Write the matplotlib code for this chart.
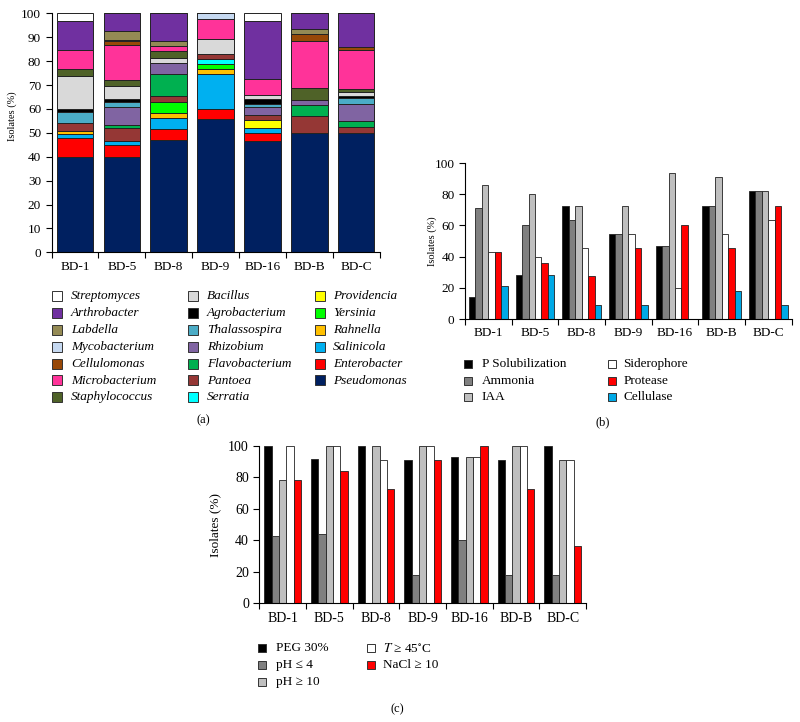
import matplotlib
matplotlib.use("Agg")
import matplotlib.pyplot as plt
import numpy as np
from matplotlib.patches import Rectangle

plt.rcParams['font.family'] = ['Liberation Serif', 'DejaVu Serif']
plt.rcParams['mathtext.fontset'] = 'stix'

W, H = 800, 722

# ---- data ----
sites = ['BD-1', 'BD-5', 'BD-8', 'BD-9', 'BD-16', 'BD-B', 'BD-C']

# stacking order, bottom to top
genera = ['Pseudomonas', 'Enterobacter', 'Salinicola', 'Rahnella', 'Yersinia',
          'Providencia', 'Serratia', 'Pantoea', 'Flavobacterium', 'Rhizobium',
          'Thalassospira', 'Agrobacterium', 'Bacillus', 'Staphylococcus',
          'Microbacterium', 'Cellulomonas', 'Mycobacterium', 'Labdella',
          'Arthrobacter', 'Streptomyces']
genus_colors = ['#002060', '#FF0000', '#00B0F0', '#FFC000', '#00FF00',
                '#FFFF00', '#00FFFF', '#953735', '#00B050', '#8064A2',
                '#4BACC6', '#000000', '#D9D9D9', '#4F6228',
                '#FF3399', '#984807', '#C6D9F1', '#948A54',
                '#7030A0', '#FFFFFF']

bd1 = [40, 8, 1.3, 1.3, 0, 0, 0, 3.3, 0, 0, 4.6, 1.4, 13.8, 3.0, 7.9, 0, 0, 0, 12.3, 3.1]
bd5 = [40, 4.9, 1.8, 0, 0, 0, 0, 5.3, 1.4, 7.4, 1.9, 1.3, 5.6, 2.7, 14.6, 1.4, 0.7, 3.4, 7.6, 0]
bd8 = [46.8, 4.6, 4.7, 2.3, 4.6, 0, 0, 2.3, 9.3, 4.6, 0, 0, 2.2, 2.7, 2.1, 0, 0, 2.2, 11.6, 0]
bd9 = [55.6, 4.2, 14.8, 2.1, 2.1, 0, 2.1, 2.1, 0, 0, 0, 0, 6.4, 0, 8.4, 0, 2.2, 0, 0, 0]
bd16 = [46.7, 3.3, 1.9, 0, 0, 3.4, 0, 2.1, 0, 3.3, 1.5, 1.8, 1.8, 0, 6.7, 0, 0, 0, 24.4, 3.1]
bdb = [50, 0, 0, 0, 0, 0, 0, 7.0, 4.6, 2.2, 0, 0, 0, 4.8, 19.9, 2.7, 0, 2.1, 6.7, 0]
bdc = [50, 0, 0, 0, 0, 0, 0, 2.4, 2.6, 7.0, 2.4, 1.2, 1.4, 1.3, 16.4, 1.4, 0, 0, 13.9, 0]

# (b) plant growth promoting traits
pgp_labels = ['P Solubilization', 'Ammonia', 'IAA', 'Siderophore', 'Protease', 'Cellulase']
pgp_colors = ['#000000', '#808080', '#BFBFBF', '#FFFFFF', '#FF0000', '#00A9E6']
p_sol = [14.3, 28, 72.7, 54.5, 46.7, 72.7, 81.8]
ammonia = [71.4, 60, 63.6, 54.5, 46.7, 72.7, 81.8]
iaa = [85.7, 80, 72.7, 72.7, 93.3, 90.9, 81.8]
siderophore = [42.9, 40, 45.5, 54.5, 20, 54.5, 63.6]
protease = [42.9, 36, 27.3, 45.5, 60, 45.5, 72.7]
cellulase = [21.4, 28, 9.1, 9.1, 0, 18.2, 9.1]

# (c) stress tolerance
stress_labels = ['PEG 30%', 'pH ≤ 4', 'pH ≥ 10', r'$T$ ≥ 45$^{\circ}$C', 'NaCl ≥ 10']
stress_colors = ['#000000', '#808080', '#BFBFBF', '#FFFFFF', '#FF0000']
peg = [100, 92, 100, 90.9, 93.3, 90.9, 100]
ph_low = [42.9, 44, 0, 18.2, 40, 18.2, 18.2]
ph_high = [78.6, 100, 100, 100, 93.3, 100, 90.9]
temp = [100, 100, 90.9, 100, 93.3, 100, 90.9]
nacl = [78.6, 84, 72.7, 90.9, 100, 72.7, 36.4]


def axes_px(fig, left, top, right, bottom):
    return fig.add_axes([left / W, 1 - bottom / H, (right - left) / W, (bottom - top) / H])


def style_axes(ax, ystep, fs):
    n = len(sites)
    ax.set_xlim(-0.5, n - 0.5)
    ax.set_ylim(0, 100)
    ax.set_yticks(np.arange(0, 101, ystep))
    ax.set_xticks(np.arange(-0.5, n), labels=[''] * (n + 1))
    ax.set_xticks(np.arange(n), labels=sites, minor=True)
    ax.tick_params(axis='x', which='major', direction='out', length=4, width=0.8)
    ax.tick_params(axis='x', which='minor', length=0, labelsize=fs, pad=6)
    ax.tick_params(axis='y', direction='out', length=4, width=0.8, labelsize=fs)
    for s in ['top', 'right']:
        ax.spines[s].set_visible(False)
    for s in ['left', 'bottom']:
        ax.spines[s].set_linewidth(0.8)


def legend_px(fig, entries, x_box, x_text, y0, dy, box, fs, style='normal'):
    for i, (lab, col) in enumerate(entries):
        y = y0 + i * dy
        fig.add_artist(Rectangle((x_box / W, 1 - (y + box / 2) / H), box / W, box / H,
                                 transform=fig.transFigure, facecolor=col,
                                 edgecolor='#333333', linewidth=0.7))
        fig.text(x_text / W, 1 - y / H, lab, fontsize=fs, style=style,
                 va='center', ha='left')


fig = plt.figure(figsize=(8, 7.22), dpi=100)

# ---- (a) stacked composition ----
ax_a = axes_px(fig, 51.6, 13.3, 379.6, 252.3)
comp = np.array([bd1, bd5, bd8, bd9, bd16, bdb, bdc]).T
x = np.arange(len(sites))
bottom = np.zeros(len(sites))
for g, col, vals in zip(genera, genus_colors, comp):
    ax_a.bar(x, vals, 0.78, bottom=bottom, color=col, edgecolor='#222222', linewidth=0.7)
    bottom += vals
style_axes(ax_a, 10, 9.5)
ax_a.set_ylabel('Isolates (%)', fontsize=7.5)
ax_a.yaxis.set_label_coords(-0.105, 0.57)

cols_a = [genera[::-1][0:7], genera[::-1][7:14], genera[::-1][14:20]]
colmap = dict(zip(genera, genus_colors))
for cg, xb, xt in zip(cols_a, [52, 188, 315], [71, 207, 333]):
    legend_px(fig, [(g, colmap[g]) for g in cg], xb, xt, 296, 16.9, 10, 9.5, 'italic')
fig.text(203 / W, 1 - 420 / H, '(a)', fontsize=9, ha='center', va='center')

# ---- (b) PGP traits ----
ax_b = axes_px(fig, 465, 163, 791.7, 319)
bw = 0.138
for i, (vals, col) in enumerate(zip([p_sol, ammonia, iaa, siderophore, protease, cellulase], pgp_colors)):
    ax_b.bar(x + (i - 2.5) * bw, vals, bw, color=col, edgecolor='#222222', linewidth=0.6)
style_axes(ax_b, 20, 9.5)
ax_b.set_ylabel('Isolates (%)', fontsize=7.5)
ax_b.yaxis.set_label_coords(-0.085, 0.5)
legend_px(fig, list(zip(pgp_labels[:3], pgp_colors[:3])), 464, 481.7, 364, 16.7, 8, 9.5)
legend_px(fig, list(zip(pgp_labels[3:], pgp_colors[3:])), 608, 623.3, 364, 16.7, 8, 9.5)
fig.text(603 / W, 1 - 422 / H, '(b)', fontsize=9, ha='center', va='center')

# ---- (c) stress tolerance ----
ax_c = axes_px(fig, 259.3, 446, 586, 603.3)
bw = 0.157
for i, (vals, col) in enumerate(zip([peg, ph_low, ph_high, temp, nacl], stress_colors)):
    ax_c.bar(x + (i - 2) * bw, vals, bw, color=col, edgecolor='#222222', linewidth=0.6)
style_axes(ax_c, 20, 10)
ax_c.set_ylabel('Isolates (%)', fontsize=9.5)
ax_c.yaxis.set_label_coords(-0.115, 0.5)
legend_px(fig, list(zip(stress_labels[:3], stress_colors[:3])), 258.3, 276, 648.3, 16.7, 8, 9.5)
legend_px(fig, list(zip(stress_labels[3:], stress_colors[3:])), 366.7, 383.3, 648.3, 16.7, 8, 9.5)
fig.text(397.5 / W, 1 - 709 / H, '(c)', fontsize=9, ha='center', va='center')

fig.savefig('out.png', dpi=100)
